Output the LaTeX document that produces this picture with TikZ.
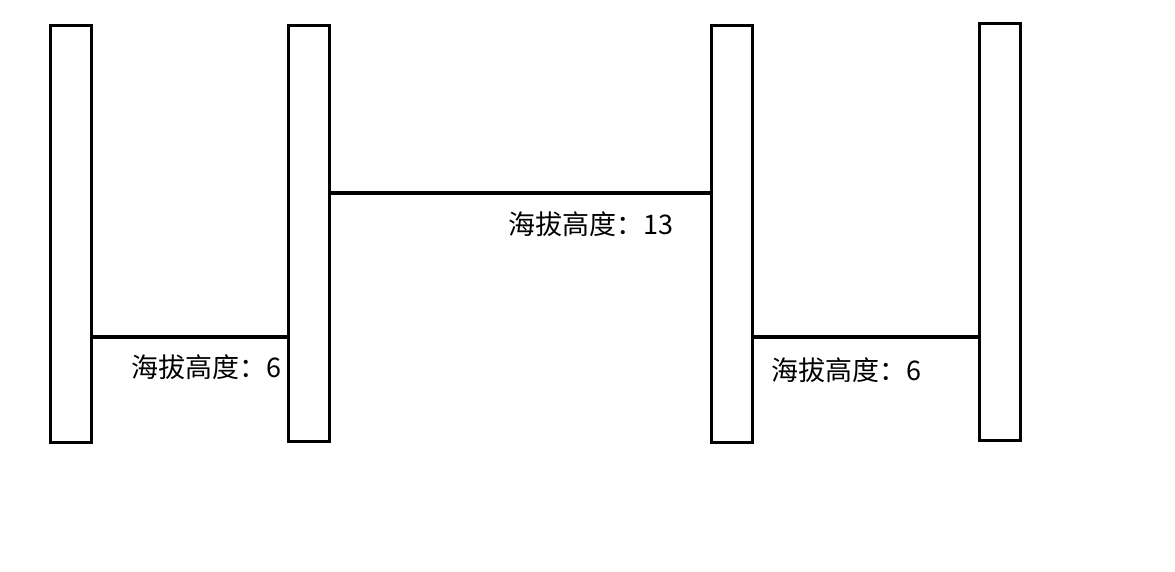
\documentclass[tikz,border=0pt]{standalone}
\usepackage{fontspec}
\newfontfamily\cjk{Noto Sans CJK SC}
\begin{document}
\begin{tikzpicture}[x=1pt,y=-1pt,
  pillar/.style={draw,line width=3pt,minimum width=41pt,inner sep=0pt},
  link/.style={line width=4pt},
  lbl/.style={font=\cjk\fontsize{27pt}{30pt}\selectfont,inner sep=0pt}]
\useasboundingbox[fill=white] (0,0) rectangle (1175,571);
\node[pillar,minimum height=417pt] (p1) at (70.5,233.5) {};
\node[pillar,minimum height=416pt] (p2) at (308.5,233) {};
\node[pillar,minimum height=417pt] (p3) at (731.5,233.5) {};
\node[pillar,minimum height=417pt] (p4) at (999.5,231.5) {};
\draw[link] ([yshift=-103.5pt]p1.east) -- ([yshift=-104pt]p2.west);
\draw[link] ([yshift=40pt]p2.east) -- ([yshift=40.5pt]p3.west);
\draw[link] ([yshift=-103.5pt]p3.east) -- ([yshift=-105.5pt]p4.west);
\node[lbl] (l1) at (206,367) {海拔高度：6};
\node[lbl] (l2) at (591,224) {海拔高度：13};
\node[lbl] (l3) at (846,370) {海拔高度：6};
\end{tikzpicture}
\end{document}
